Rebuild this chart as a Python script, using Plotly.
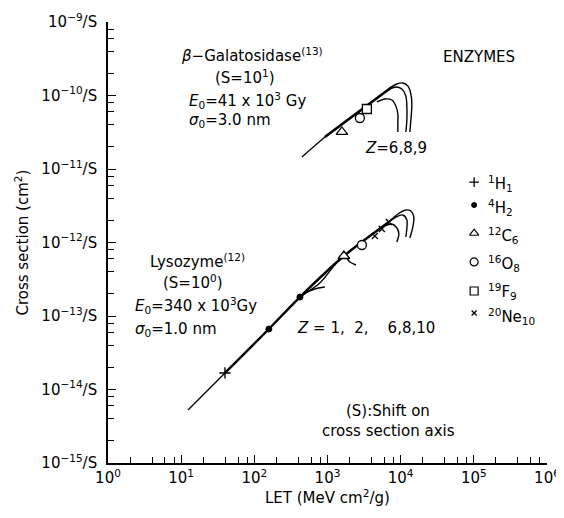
import plotly.graph_objects as go

# ---------------- data ----------------
# Lysozyme (S = 10^0)
lyso_line_let = [12.4, 39.7, 158, 420, 1675, 6900]
lyso_line_sig = [5.26e-15, 1.68e-14, 6.65e-14, 1.81e-13, 6.55e-13, 1.90e-12]
lyso_thick_let = [39.7, 158, 420, 1675, 6900]
lyso_thick_sig = [1.68e-14, 6.65e-14, 1.81e-13, 6.55e-13, 1.90e-12]
lyso_z2_let = [420, 491, 673, 921]
lyso_z2_sig = [1.81e-13, 2.055e-13, 2.33e-13, 2.48e-13]
lyso_z6_let = [420, 787, 1675, 2023, 2443]
lyso_z6_sig = [1.81e-13, 2.81e-13, 6.55e-13, 5.43e-13, 4.94e-13]
lyso_h1_let = [6085, 7584, 8874, 9450, 8874]
lyso_h1_sig = [1.678e-12, 1.786e-12, 1.576e-12, 1.305e-12, 1.016e-12]
lyso_h2_let = [6901, 8600, 10717, 12154, 12154, 11778]
lyso_h2_sig = [1.901e-12, 2.223e-12, 2.366e-12, 2.023e-12, 1.576e-12, 1.188e-12]
lyso_h3_let = [6901, 9157, 11778, 13783, 15146, 14678, 13359]
lyso_h3_sig = [1.901e-12, 2.442e-12, 2.768e-12, 2.683e-12, 2.223e-12, 1.626e-12, 1.151e-12]

lyso_H_let, lyso_H_sig = [39.7], [1.68e-14]
lyso_He_let, lyso_He_sig = [158, 420], [6.65e-14, 1.81e-13]
lyso_C_let, lyso_C_sig = [1675], [6.55e-13]
lyso_O_let, lyso_O_sig = [2951], [9.25e-13]
lyso_Ne_let, lyso_Ne_sig = [4442, 5536, 6901], [1.23e-12, 1.53e-12, 1.90e-12]

# beta-Galactosidase (S = 10^1)
beta_line_let = [447, 1078, 7584]
beta_line_sig = [1.457e-11, 3.09e-11, 1.305e-10]
beta_thick_let = [921, 7584]
beta_thick_sig = [2.72e-11, 1.305e-10]
beta_h1_let = [4730, 6085, 7584, 8600, 9157, 9157, 9157]
beta_h1_sig = [8.16e-11, 8.96e-11, 8.69e-11, 7.20e-11, 5.60e-11, 4.23e-11, 3.19e-11]
beta_h2_let = [6687, 8600, 10385, 11778, 12154, 12154, 11778]
beta_h2_sig = [1.188e-10, 1.305e-10, 1.226e-10, 9.84e-11, 6.98e-11, 4.64e-11, 3.19e-11]
beta_h3_let = [7120, 8874, 10717, 12543, 13783, 14224, 13783, 13359]
beta_h3_sig = [1.265e-10, 1.434e-10, 1.479e-10, 1.346e-10, 1.048e-10, 7.43e-11, 4.64e-11, 3.19e-11]

beta_C_let, beta_C_sig = [1573], [3.19e-11]
beta_O_let, beta_O_sig = [2771], [4.94e-11]
beta_F_let, beta_F_sig = [3453], [6.55e-11]

x_tickvals = [1, 10, 100, 1e3, 1e4, 1e5, 1e6]
x_ticktext = ["10<sup>0</sup>", "10<sup>1</sup>", "10<sup>2</sup>", "10<sup>3</sup>",
              "10<sup>4</sup>", "10<sup>5</sup>", "10<sup>6</sup>"]
y_tickvals = [1e-15, 1e-14, 1e-13, 1e-12, 1e-11, 1e-10, 1e-9]
y_ticktext = ["10<sup>−15</sup>/S", "10<sup>−14</sup>/S", "10<sup>−13</sup>/S", "10<sup>−12</sup>/S",
              "10<sup>−11</sup>/S", "10<sup>−10</sup>/S", "10<sup>−9</sup>/S"]

legend_labels = ["<sup>1</sup>H<sub>1</sub>", "<sup>4</sup>H<sub>2</sub>", "<sup>12</sup>C<sub>6</sub>",
                 "<sup>16</sup>O<sub>8</sub>", "<sup>19</sup>F<sub>9</sub>", "<sup>20</sup>Ne<sub>10</sub>"]

# ---------------- figure ----------------
FONT = "DejaVu Sans"
K = "black"
fig = go.Figure()

def curve(xs, ys, w=1.4):
    fig.add_trace(go.Scatter(x=xs, y=ys, mode="lines", line=dict(color=K, width=w, shape="spline", smoothing=0.8),
                             showlegend=False, hoverinfo="skip"))

curve(lyso_line_let, lyso_line_sig, 1.3)
curve(lyso_thick_let, lyso_thick_sig, 2.4)
curve(lyso_z2_let, lyso_z2_sig)
curve(lyso_z6_let, lyso_z6_sig)
curve(lyso_h1_let, lyso_h1_sig)
curve(lyso_h2_let, lyso_h2_sig)
curve(lyso_h3_let, lyso_h3_sig)
curve(beta_line_let, beta_line_sig, 1.3)
curve(beta_thick_let, beta_thick_sig, 2.6)
curve(beta_h1_let, beta_h1_sig)
curve(beta_h2_let, beta_h2_sig)
curve(beta_h3_let, beta_h3_sig)

STY = {
    "H": dict(symbol="cross-thin", size=8, color=K, line=dict(color=K, width=1.4)),
    "He": dict(symbol="circle", size=6, color=K, line=dict(color=K, width=1)),
    "C": dict(symbol="triangle-up", size=10, color="white", line=dict(color=K, width=1.3)),
    "O": dict(symbol="circle", size=9, color="white", line=dict(color=K, width=1.3)),
    "F": dict(symbol="square", size=9, color="white", line=dict(color=K, width=1.3)),
    "Ne": dict(symbol="x-thin", size=6, color=K, line=dict(color=K, width=1.4)),
}
KEY_STY = {
    "H": dict(symbol="cross-thin", size=7, color=K, line=dict(color=K, width=1.3)),
    "He": dict(symbol="circle", size=5, color=K, line=dict(color=K, width=1)),
    "C": dict(symbol="triangle-up", size=8, color="white", line=dict(color=K, width=1.2)),
    "O": dict(symbol="circle", size=8, color="white", line=dict(color=K, width=1.2)),
    "F": dict(symbol="square", size=8, color="white", line=dict(color=K, width=1.2)),
    "Ne": dict(symbol="x-thin", size=5, color=K, line=dict(color=K, width=1.3)),
}

def pts(xs, ys, key, sty=STY):
    fig.add_trace(go.Scatter(x=xs, y=ys, mode="markers", marker=sty[key], showlegend=False, hoverinfo="skip"))

pts(lyso_H_let, lyso_H_sig, "H")
pts(lyso_He_let, lyso_He_sig, "He")
pts(lyso_C_let, lyso_C_sig, "C")
pts(lyso_O_let, lyso_O_sig, "O")
pts(lyso_Ne_let, lyso_Ne_sig, "Ne")
pts(beta_C_let, beta_C_sig, "C")
pts(beta_O_let, beta_O_sig, "O")
pts(beta_F_let, beta_F_sig, "F")

# key (placed in paper fractions, converted through the axis ranges)
key_x = 0.834
key_rows = [0.637, 0.585, 0.521, 0.456, 0.390, 0.340]
label_rows = [0.633, 0.580, 0.515, 0.452, 0.388, 0.333]
for key, ky, lab, ly in zip(["H", "He", "C", "O", "F", "Ne"], key_rows, legend_labels, label_rows):
    pts([10 ** (6 * key_x)], [10 ** (-15 + 6 * ky)], key, KEY_STY)
    fig.add_annotation(x=0.861, y=ly, xref="paper", yref="paper", text=lab, showarrow=False,
                       xanchor="left", yanchor="middle", font=dict(size=15, family=FONT, color=K))

def txt(x, y, s, anchor="left", size=15, yanchor="middle"):
    fig.add_annotation(x=x, y=y, xref="paper", yref="paper", text=s, showarrow=False,
                       xanchor=anchor, yanchor=yanchor, font=dict(size=size, family=FONT, color=K))

txt(0.162, 0.925, "<i>β</i>−Galatosidase<sup>(13)</sup>")
txt(0.239, 0.875, "(S=10<sup>1</sup>)")
txt(0.180, 0.823, "<i>E</i><sub>0</sub>=41 x 10<sup>3</sup> Gy")
txt(0.180, 0.776, "<i>σ</i><sub>0</sub>=3.0 nm")
txt(0.845, 0.921, "ENZYMES", "center")
txt(0.581, 0.714, "<i>Z</i>=6,8,9")
txt(0.091, 0.458, "Lysozyme<sup>(12)</sup>")
txt(0.121, 0.410, "(S=10<sup>0</sup>)")
txt(0.057, 0.358, "<i>E</i><sub>0</sub>=340 x 10<sup>3</sup>Gy")
txt(0.057, 0.302, "<i>σ</i><sub>0</sub>=1.0 nm")
txt(0.425, 0.306, "<i>Z</i> = 1,\u00a0\u00a02,\u00a0\u00a0\u00a0 6,8,10")
txt(0.638, 0.094, "(S):Shift on", "center", 15, "bottom")
txt(0.638, 0.098, "cross section axis", "center", 15, "top")

# axis titles
txt(0.5, -0.077, "LET (MeV cm<sup>2</sup>/g)", "center", 15)
fig.add_annotation(x=-0.198, y=0.5, xref="paper", yref="paper", text="Cross section (cm<sup>2</sup>)",
                   showarrow=False, textangle=-90, xanchor="center", yanchor="middle",
                   font=dict(size=15, family=FONT, color=K))

minor_x = [m * 10 ** e for e in range(0, 6) for m in (2, 4, 6, 8)]
minor_y = [m * 10.0 ** e for e in range(-15, -9) for m in (2, 4, 6, 8)]

axis_common = dict(showline=True, linecolor=K, linewidth=1.6, ticks="inside", ticklen=8, tickwidth=1.4,
                   tickcolor=K, showgrid=False, zeroline=False, mirror=False, automargin=False,
                   ticklabeloverflow="allow", tickfont=dict(size=15, family=FONT, color=K))
fig.update_xaxes(type="log", range=[0, 6], tickvals=x_tickvals, ticktext=x_ticktext,
                 minor=dict(tickvals=minor_x, ticks="inside", ticklen=6, tickwidth=1.2, tickcolor=K, showgrid=False),
                 **axis_common)
fig.update_yaxes(type="log", range=[-15, -9], tickvals=y_tickvals, ticktext=y_ticktext,
                 minor=dict(tickvals=minor_y, ticks="inside", ticklen=6, tickwidth=1.2, tickcolor=K, showgrid=False),
                 ticklabelstandoff=6, **axis_common)

# the page body adds an 8 px margin, so the figure is 8 px smaller and margins are shifted
fig.update_layout(width=556, height=510, margin=dict(l=100, r=17, t=14, b=55),
                  paper_bgcolor="white", plot_bgcolor="white", showlegend=False,
                  font=dict(family=FONT, color=K))

fig.write_html("out.html")
